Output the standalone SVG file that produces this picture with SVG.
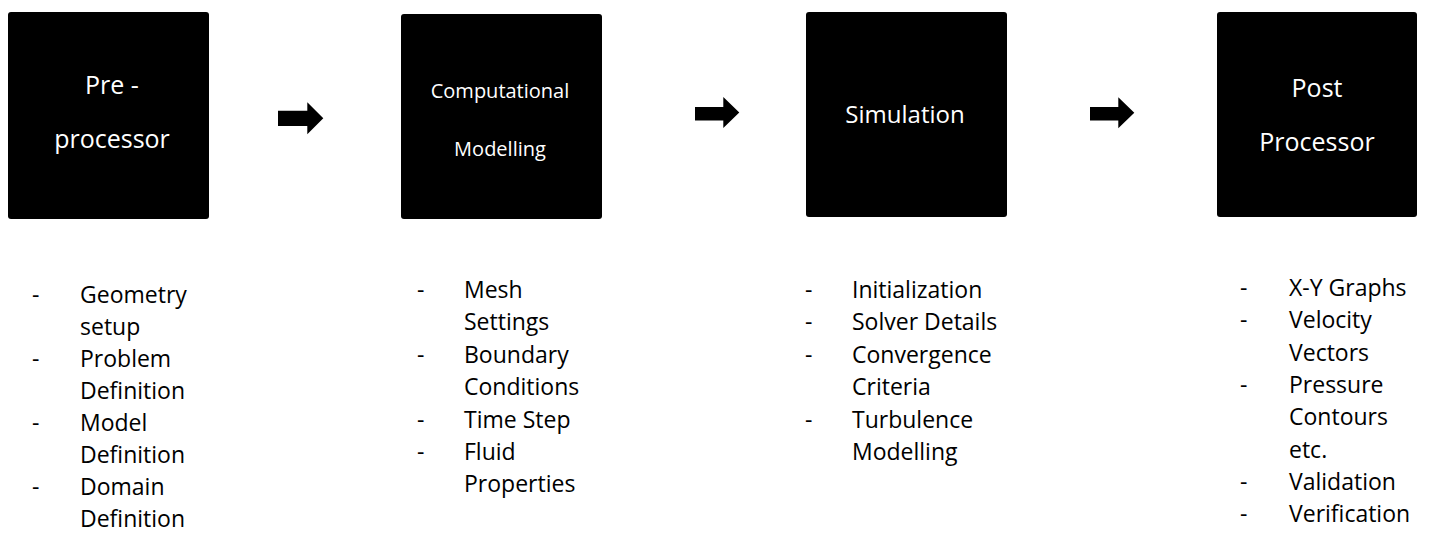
<svg xmlns="http://www.w3.org/2000/svg" width="1429" height="533" viewBox="0 0 1429 533">
<style>
.box{fill:#000;}
.bt{font-family:"Open Sans","Liberation Sans",sans-serif;fill:#fff;text-anchor:middle;}
.lt{font-family:"Open Sans","Liberation Sans",sans-serif;fill:#000;font-size:23px;}
.arr{fill:#000;}
</style>
<rect width="1429" height="533" fill="#fff"/>
<g id="node-preprocessor">
<rect class="box" x="8" y="12" width="201" height="207" rx="3"/>
<text class="bt" font-size="25" x="112" y="94">Pre -</text>
<text class="bt" font-size="25" x="112" y="148">processor</text>
</g>
<g id="node-computational">
<rect class="box" x="401" y="14" width="201" height="205" rx="3"/>
<text class="bt" font-size="20" x="500" y="98">Computational</text>
<text class="bt" font-size="20" x="500" y="156">Modelling</text>
</g>
<g id="node-simulation">
<rect class="box" x="806" y="12" width="201" height="205" rx="3"/>
<text class="bt" font-size="24" x="905" y="123">Simulation</text>
</g>
<g id="node-postprocessor">
<rect class="box" x="1217" y="12" width="200" height="205" rx="3"/>
<text class="bt" font-size="25" x="1317" y="97">Post</text>
<text class="bt" font-size="25" x="1317" y="151">Processor</text>
</g>
<g id="connectors">
<polygon class="arr" points="278,110.7 307.3,110.7 307.3,102.3 323.3,118.3 307.3,134.3 307.3,126 278,126"/>
<polygon class="arr" points="695,107 723.3,107 723.3,97 739.3,112.5 723.3,128 723.3,120.5 695,120.5"/>
<polygon class="arr" points="1090,107 1118.3,107 1118.3,97.3 1134.3,112.8 1118.3,128.3 1118.3,120.5 1090,120.5"/>
</g>
<g id="list-preprocessor" class="lt">
<text x="32" y="303">-</text><text x="80" y="303">Geometry</text>
<text x="80" y="335">setup</text>
<text x="32" y="367">-</text><text x="80" y="367">Problem</text>
<text x="80" y="399">Definition</text>
<text x="32" y="431">-</text><text x="80" y="431">Model</text>
<text x="80" y="463">Definition</text>
<text x="32" y="495">-</text><text x="80" y="495">Domain</text>
<text x="80" y="527">Definition</text>
</g>
<g id="list-computational" class="lt">
<text x="417" y="298">-</text><text x="464" y="298">Mesh</text>
<text x="464" y="330">Settings</text>
<text x="417" y="363">-</text><text x="464" y="363">Boundary</text>
<text x="464" y="395">Conditions</text>
<text x="417" y="428">-</text><text x="464" y="428">Time Step</text>
<text x="417" y="460">-</text><text x="464" y="460">Fluid</text>
<text x="464" y="492">Properties</text>
</g>
<g id="list-simulation" class="lt">
<text x="805" y="298">-</text><text x="852" y="298">Initialization</text>
<text x="805" y="330">-</text><text x="852" y="330">Solver Details</text>
<text x="805" y="363">-</text><text x="852" y="363">Convergence</text>
<text x="852" y="395">Criteria</text>
<text x="805" y="428">-</text><text x="852" y="428">Turbulence</text>
<text x="852" y="460">Modelling</text>
</g>
<g id="list-postprocessor" class="lt">
<text x="1240" y="296">-</text><text x="1289" y="296">X-Y Graphs</text>
<text x="1240" y="328">-</text><text x="1289" y="328">Velocity</text>
<text x="1289" y="361">Vectors</text>
<text x="1240" y="393">-</text><text x="1289" y="393">Pressure</text>
<text x="1289" y="425">Contours</text>
<text x="1289" y="458">etc.</text>
<text x="1240" y="490">-</text><text x="1289" y="490">Validation</text>
<text x="1240" y="522">-</text><text x="1289" y="522">Verification</text>
</g>
</svg>
